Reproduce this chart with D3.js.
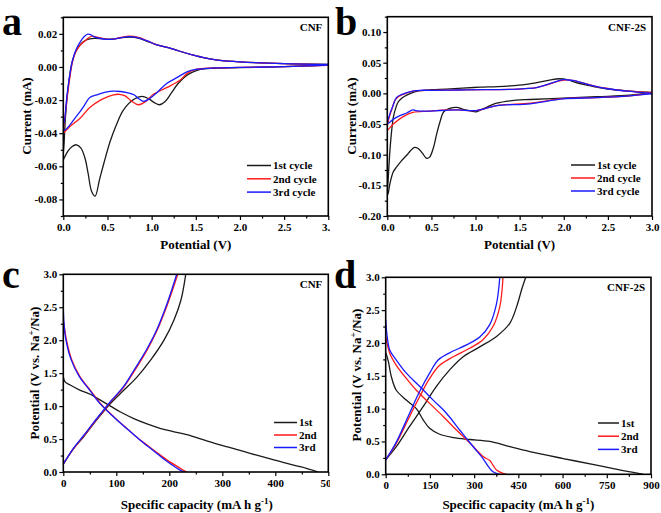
<!DOCTYPE html>
<html><head><meta charset="utf-8">
<script src="https://cdn.jsdelivr.net/npm/d3@7"></script>
<style>body{margin:0;background:#fff}svg{display:block}text{font-family:"Liberation Serif","Times New Roman",serif;font-weight:bold;fill:#000}</style>
</head><body>
<svg id="chart" width="661" height="513"></svg>
<script>
// ---------- DATA ----------
// Panel a: CV of CNF  [potential V, current mA]
const cvCNF_1st = [[3.0,0.0012],[2.5,0.0002],[2.0,-0.0004],[1.7,-0.0008],[1.55,-0.0015],[1.47,-0.003],[1.4,-0.005],[1.3,-0.01],[1.22,-0.016],[1.15,-0.021],[1.09,-0.0228],[1.03,-0.0215],[0.96,-0.019],[0.89,-0.0178],[0.8,-0.0195],[0.68,-0.026],[0.6,-0.035],[0.53,-0.045],[0.46,-0.058],[0.41,-0.068],[0.36,-0.078],[0.32,-0.075],[0.28,-0.064],[0.245,-0.055],[0.2,-0.049],[0.15,-0.047],[0.1,-0.048],[0.05,-0.051],[0.01,-0.055],[0.0,-0.056],[0.01,-0.045],[0.025,-0.03],[0.04,-0.02],[0.07,-0.006],[0.1,0.003],[0.13,0.008],[0.17,0.012],[0.21,0.0145],[0.26,0.0163],[0.3,0.017],[0.35,0.0173],[0.42,0.0172],[0.5,0.0168],[0.57,0.017],[0.65,0.0176],[0.75,0.018],[0.85,0.0174],[0.95,0.0155],[1.06,0.0134],[1.2,0.0115],[1.3,0.0098],[1.47,0.0072],[1.6,0.0055],[1.75,0.0042],[2.0,0.0031],[2.5,0.002],[3.0,0.0016]];
const cvCNF_2nd = [[3.0,0.001],[2.5,0.0002],[2.0,-0.0003],[1.7,-0.0006],[1.5,-0.0015],[1.4,-0.004],[1.32,-0.008],[1.17,-0.0125],[1.02,-0.0165],[0.94,-0.0205],[0.85,-0.0228],[0.77,-0.0205],[0.7,-0.0175],[0.63,-0.0165],[0.57,-0.0168],[0.5,-0.018],[0.415,-0.0202],[0.3,-0.0245],[0.19,-0.031],[0.075,-0.036],[0.02,-0.039],[0.0,-0.04],[0.02,-0.03],[0.04,-0.02],[0.07,-0.008],[0.1,0.002],[0.14,0.009],[0.19,0.013],[0.24,0.0155],[0.29,0.0178],[0.33,0.0186],[0.37,0.0182],[0.42,0.0175],[0.5,0.0167],[0.57,0.0168],[0.65,0.0178],[0.75,0.0186],[0.85,0.0178],[0.95,0.0158],[1.06,0.0134],[1.2,0.0115],[1.3,0.0098],[1.47,0.0072],[1.6,0.0055],[1.75,0.0042],[2.0,0.0031],[2.5,0.002],[3.0,0.0014]];
const cvCNF_3rd = [[3.0,0.0012],[2.5,0.0002],[2.0,-0.0003],[1.7,-0.0006],[1.5,-0.0015],[1.4,-0.003],[1.3,-0.006],[1.17,-0.01],[1.06,-0.0155],[0.98,-0.019],[0.91,-0.0208],[0.85,-0.019],[0.8,-0.0168],[0.72,-0.0155],[0.65,-0.0148],[0.57,-0.0146],[0.48,-0.0152],[0.38,-0.0168],[0.3,-0.0185],[0.24,-0.023],[0.19,-0.027],[0.13,-0.031],[0.075,-0.035],[0.02,-0.038],[0.0,-0.038],[0.02,-0.03],[0.04,-0.018],[0.07,-0.006],[0.1,0.003],[0.14,0.01],[0.19,0.015],[0.24,0.0185],[0.28,0.0198],[0.31,0.0195],[0.35,0.0182],[0.42,0.0172],[0.5,0.0167],[0.57,0.0168],[0.65,0.0176],[0.75,0.0183],[0.85,0.0176],[0.95,0.0157],[1.06,0.0134],[1.2,0.0115],[1.3,0.0098],[1.47,0.0072],[1.6,0.0055],[1.75,0.0042],[2.0,0.0031],[2.5,0.002],[3.0,0.0015]];

// Panel b: CV of CNF-2S
const cvCNF2S_1st = [[3.0,0.002],[2.75,-0.003],[2.37,-0.0055],[1.99,-0.008],[1.62,-0.01],[1.46,-0.011],[1.24,-0.016],[1.09,-0.025],[1.01,-0.03],[0.93,-0.028],[0.86,-0.026],[0.785,-0.0228],[0.7,-0.025],[0.64,-0.03],[0.6,-0.045],[0.56,-0.066],[0.52,-0.09],[0.48,-0.104],[0.445,-0.106],[0.4,-0.098],[0.35,-0.09],[0.31,-0.088],[0.26,-0.094],[0.22,-0.101],[0.16,-0.11],[0.106,-0.12],[0.068,-0.128],[0.03,-0.147],[0.01,-0.163],[0.0,-0.166],[0.01,-0.14],[0.03,-0.093],[0.05,-0.06],[0.07,-0.038],[0.1,-0.022],[0.125,-0.0137],[0.17,-0.007],[0.22,-0.003],[0.3,0.002],[0.37,0.0044],[0.5,0.006],[0.67,0.007],[0.85,0.0085],[1.05,0.01],[1.25,0.011],[1.43,0.0126],[1.6,0.015],[1.75,0.019],[1.85,0.022],[1.95,0.0238],[2.05,0.022],[2.14,0.0175],[2.25,0.014],[2.37,0.01],[2.5,0.007],[2.6,0.0055],[2.82,0.0027],[3.0,0.0016]];
const cvCNF2S_2nd = [[3.0,0.001],[2.75,-0.004],[2.37,-0.007],[1.99,-0.0087],[1.62,-0.016],[1.24,-0.02],[1.01,-0.028],[0.8,-0.027],[0.67,-0.027],[0.48,-0.029],[0.29,-0.031],[0.18,-0.038],[0.068,-0.05],[0.01,-0.059],[0.0,-0.06],[0.02,-0.04],[0.05,-0.027],[0.087,-0.011],[0.13,-0.005],[0.18,-0.0016],[0.25,0.002],[0.33,0.0044],[0.5,0.005],[0.8,0.0055],[1.1,0.006],[1.43,0.0066],[1.6,0.008],[1.69,0.0095],[1.8,0.0135],[1.92,0.019],[2.03,0.022],[2.1,0.021],[2.18,0.0185],[2.3,0.014],[2.37,0.011],[2.5,0.008],[2.6,0.0055],[2.8,0.003],[3.0,0.001]];
const cvCNF2S_3rd = [[3.0,-0.001],[2.75,-0.004],[2.37,-0.007],[1.99,-0.009],[1.62,-0.017],[1.24,-0.02],[1.01,-0.028],[0.8,-0.027],[0.6,-0.028],[0.45,-0.029],[0.32,-0.028],[0.29,-0.027],[0.22,-0.032],[0.15,-0.036],[0.07,-0.042],[0.01,-0.049],[0.0,-0.05],[0.03,-0.033],[0.06,-0.022],[0.106,-0.0066],[0.16,-0.002],[0.22,0.001],[0.3,0.004],[0.37,0.005],[0.5,0.005],[0.8,0.0055],[1.1,0.006],[1.43,0.0066],[1.6,0.008],[1.69,0.0095],[1.8,0.014],[1.92,0.0195],[2.0,0.0225],[2.1,0.021],[2.18,0.0185],[2.3,0.0135],[2.5,0.0075],[2.8,0.0025],[3.0,0.0]];

// Panel c: GCD of CNF [capacity mAh/g, potential V]
const gcdCNF_1st_dis = [[0,1.45],[3,1.37],[13,1.32],[32,1.24],[51,1.18],[70,1.09],[89,1.0],[108,0.91],[133,0.81],[158,0.73],[184,0.66],[209,0.61],[241,0.55],[272,0.47],[310,0.38],[354,0.28],[399,0.18],[449,0.076],[481,0.0]];
const gcdCNF_1st_ch = [[0,0.12],[19,0.35],[38,0.53],[57,0.73],[70,0.86],[89,1.04],[114,1.24],[139,1.44],[165,1.7],[190,2.0],[209,2.31],[222,2.61],[231,3.0]];
const gcdCNF_2nd_dis = [[0,2.3],[2,2.2],[6,2.0],[16,1.7],[32,1.44],[51,1.24],[70,1.04],[95,0.84],[120,0.66],[146,0.48],[171,0.33],[196,0.18],[222,0.05],[233,0.0]];
const gcdCNF_2nd_ch = [[0,0.12],[19,0.35],[38,0.54],[57,0.74],[70,0.87],[89,1.06],[114,1.29],[133,1.52],[158,1.85],[177,2.15],[196,2.53],[216,3.0]];
const gcdCNF_3rd_dis = [[0,2.5],[1,2.3],[4,2.05],[14,1.72],[30,1.45],[49,1.25],[68,1.05],[93,0.85],[118,0.67],[144,0.49],[169,0.33],[194,0.17],[218,0.04],[228,0.0]];
const gcdCNF_3rd_ch = [[0,0.12],[19,0.36],[38,0.55],[57,0.75],[70,0.88],[89,1.07],[114,1.3],[133,1.54],[158,1.87],[177,2.17],[196,2.56],[214,3.0]];

// Panel d: GCD of CNF-2S
const gcdCNF2S_1st_dis = [[0,1.85],[8,1.74],[19,1.49],[36,1.28],[70,1.13],[104,1.0],[127,0.83],[149,0.7],[183,0.61],[229,0.56],[285,0.53],[353,0.5],[421,0.42],[489,0.345],[602,0.24],[715,0.14],[806,0.056],[874,0.0]];
const gcdCNF2S_1st_ch = [[0,0.22],[36,0.42],[81,0.73],[127,1.03],[172,1.34],[217,1.59],[263,1.79],[319,1.94],[376,2.1],[421,2.3],[444,2.55],[461,2.81],[475,3.0]];
const gcdCNF2S_2nd_dis = [[0,2.1],[2,2.05],[14,1.84],[36,1.66],[70,1.46],[104,1.28],[149,1.08],[195,0.88],[240,0.675],[285,0.48],[308,0.37],[330,0.27],[353,0.21],[364,0.14],[376,0.066],[398,0.015],[410,0.0]];
const gcdCNF2S_2nd_ch = [[0,0.22],[36,0.47],[81,0.88],[115,1.18],[149,1.46],[183,1.66],[229,1.79],[285,1.92],[330,2.05],[364,2.25],[387,2.55],[398,3.0]];
const gcdCNF2S_3rd_dis = [[0,2.35],[5,2.1],[14,1.89],[36,1.74],[70,1.54],[115,1.34],[161,1.13],[206,0.93],[251,0.675],[297,0.42],[330,0.24],[348,0.12],[364,0.04],[387,0.0]];
const gcdCNF2S_3rd_ch = [[0,0.22],[36,0.49],[81,0.93],[115,1.26],[149,1.54],[178,1.74],[217,1.85],[274,1.97],[319,2.09],[353,2.28],[376,2.6],[387,3.0]];

const cvLegend = ["1st cycle","2nd cycle","3rd cycle"];
const gcdLegend = ["1st","2nd","3rd"];
const seriesColors = ["#1a1a1a","#ff1a1a","#1a1aff"];

// ---------- DRAW ----------
const svg = d3.select("#chart");
const defs = svg.append("defs");
defs.append("clipPath").attr("id","leftclip").append("rect").attr("x",0).attr("y",0).attr("width",330).attr("height",513);

function panel(opts){
  const root = opts.clip ? svg.append("g").attr("clip-path","url(#leftclip)") : svg.append("g");
  const x = d3.scaleLinear().domain(opts.xd).range([opts.x0,opts.x1]);
  const y = d3.scaleLinear().domain(opts.yd).range([opts.y1,opts.y0]);
  const cid = "pc"+opts.id;
  defs.append("clipPath").attr("id",cid).append("rect")
    .attr("x",opts.x0).attr("y",opts.y0).attr("width",opts.x1-opts.x0).attr("height",opts.y1-opts.y0);
  const line = d3.line().x(d=>x(d[0])).y(d=>y(d[1])).curve(d3.curveCatmullRom.alpha(0.5));
  const dg = root.append("g").attr("clip-path",`url(#${cid})`);
  opts.series.forEach(s=>{
    s.data.forEach(arr=>{
      dg.append("path").attr("d",line(arr)).attr("fill","none").attr("stroke",s.color).attr("stroke-width",1.3);
    });
  });
  const xa = root.append("g").attr("transform",`translate(0,${opts.y1})`)
    .call(d3.axisBottom(x).tickValues(opts.xt).tickSize(4).tickPadding(3).tickFormat(opts.xfmt));
  const xm = root.append("g").attr("transform",`translate(0,${opts.y1})`)
    .call(d3.axisBottom(x).tickValues(opts.xm).tickSize(2.5).tickFormat(""));
  const ya = root.append("g").attr("transform",`translate(${opts.x0},0)`)
    .call(d3.axisLeft(y).tickValues(opts.yt).tickSize(4).tickPadding(2).tickFormat(opts.yfmt));
  const ym = root.append("g").attr("transform",`translate(${opts.x0},0)`)
    .call(d3.axisLeft(y).tickValues(opts.ym).tickSize(2.5).tickFormat(""));
  [xa,xm,ya,ym].forEach(g=>{
    g.select(".domain").remove();
    g.selectAll("line").attr("stroke","#000").attr("stroke-width",1.2);
    g.selectAll("text").style("font-family",'"Liberation Serif",serif').style("font-weight","bold").style("font-size","11px").attr("fill","#000");
  });
  root.append("rect").attr("x",opts.x0).attr("y",opts.y0).attr("width",opts.x1-opts.x0).attr("height",opts.y1-opts.y0)
    .attr("fill","none").attr("stroke","#000").attr("stroke-width",1.6);
  root.append("text").attr("x",opts.x1-6).attr("y",opts.y0+14).attr("text-anchor","end").style("font-size","11px").text(opts.label);
  opts.legend.forEach((t,i)=>{
    const ly = opts.ly + i*opts.lstep;
    root.append("line").attr("x1",opts.lx).attr("x2",opts.lx+opts.lw).attr("y1",ly).attr("y2",ly)
      .attr("stroke",seriesColors[i]).attr("stroke-width",1.5);
    root.append("text").attr("x",opts.lx+opts.lw+2).attr("y",ly).attr("dy","0.35em").style("font-size","11px").text(t);
  });
  root.append("text").attr("x",(opts.x0+opts.x1)/2+opts.xtdx).attr("y",opts.xty).attr("text-anchor","middle").style("font-size","13px").call(opts.xtitle);
  root.append("text").attr("transform",`translate(${opts.ytx},${opts.yty}) rotate(-90)`).attr("text-anchor","middle").style("font-size","13px").call(opts.ytitle);
  root.append("text").attr("x",opts.letx).attr("y",opts.lety).style("font-size","40px").text(opts.letter);
}

const f2 = d=>d.toFixed(2), f1 = d=>d.toFixed(1), f0 = d=>String(d);
const simple = t => sel => sel.text(t);
const potVs = sel => { sel.append("tspan").text("Potential (V vs. Na"); sel.append("tspan").attr("dy","-5").style("font-size","9px").text("+"); sel.append("tspan").attr("dy","5").text("/Na)"); };
const specCap = sel => { sel.append("tspan").text("Specific capacity (mA h g"); sel.append("tspan").attr("dy","-5").style("font-size","9px").text("-1"); sel.append("tspan").attr("dy","5").text(")"); };

panel({id:"a",clip:true,x0:63.3,x1:328.3,y0:17.3,y1:216,xd:[0,3],yd:[-0.09,0.03],
  xt:d3.range(0,3.01,0.5),xm:d3.range(0.25,3,0.5),yt:[-0.08,-0.06,-0.04,-0.02,0,0.02],ym:[-0.09,-0.07,-0.05,-0.03,-0.01,0.01,0.03],
  xfmt:f1,yfmt:f2,label:"CNF",
  series:[{color:seriesColors[0],data:[cvCNF_1st]},{color:seriesColors[1],data:[cvCNF_2nd]},{color:seriesColors[2],data:[cvCNF_3rd]}],
  legend:cvLegend,lx:247,lw:24,ly:165.5,lstep:13.3,
  xtitle:simple("Potential (V)"),xtdx:0,xty:249,ytitle:simple("Current (mA)"),ytx:31,yty:116,letter:"a",letx:2,lety:35});

panel({id:"b",clip:false,x0:387.3,x1:652,y0:16.7,y1:216,xd:[0,3],yd:[-0.2,0.125],
  xt:d3.range(0,3.01,0.5),xm:d3.range(0.25,3,0.5),yt:[-0.2,-0.15,-0.1,-0.05,0,0.05,0.1],ym:[-0.175,-0.125,-0.075,-0.025,0.025,0.075,0.125],
  xfmt:f1,yfmt:f2,label:"CNF-2S",
  series:[{color:seriesColors[0],data:[cvCNF2S_1st]},{color:seriesColors[1],data:[cvCNF2S_2nd]},{color:seriesColors[2],data:[cvCNF2S_3rd]}],
  legend:cvLegend,lx:571,lw:24,ly:165,lstep:13,
  xtitle:simple("Potential (V)"),xtdx:0,xty:249,ytitle:simple("Current (mA)"),ytx:356,yty:116,letter:"b",letx:335,lety:35});

panel({id:"c",clip:true,x0:63.3,x1:328.3,y0:274.3,y1:472,xd:[0,500],yd:[0,3],
  xt:d3.range(0,501,100),xm:d3.range(50,500,100),yt:d3.range(0,3.01,0.5),ym:d3.range(0.25,3,0.5),
  xfmt:f0,yfmt:f1,label:"CNF",
  series:[{color:seriesColors[0],data:[gcdCNF_1st_dis,gcdCNF_1st_ch]},{color:seriesColors[1],data:[gcdCNF_2nd_dis,gcdCNF_2nd_ch]},{color:seriesColors[2],data:[gcdCNF_3rd_dis,gcdCNF_3rd_ch]}],
  legend:gcdLegend,lx:274,lw:23,ly:422.5,lstep:12.5,
  xtitle:specCap,xtdx:1,xty:509,ytitle:potVs,ytx:39,yty:373,letter:"c",letx:2,lety:288});

panel({id:"d",clip:false,x0:385.7,x1:651,y0:277.3,y1:474.3,xd:[0,900],yd:[0,3],
  xt:d3.range(0,901,150),xm:d3.range(75,900,150),yt:d3.range(0,3.01,0.5),ym:d3.range(0.25,3,0.5),
  xfmt:f0,yfmt:f1,label:"CNF-2S",
  series:[{color:seriesColors[0],data:[gcdCNF2S_1st_dis,gcdCNF2S_1st_ch]},{color:seriesColors[1],data:[gcdCNF2S_2nd_dis,gcdCNF2S_2nd_ch]},{color:seriesColors[2],data:[gcdCNF2S_3rd_dis,gcdCNF2S_3rd_ch]}],
  legend:gcdLegend,lx:598,lw:21,ly:423,lstep:13.2,
  xtitle:specCap,xtdx:0,xty:509,ytitle:potVs,ytx:361,yty:375,letter:"d",letx:334,lety:288});
</script>
</body></html>
